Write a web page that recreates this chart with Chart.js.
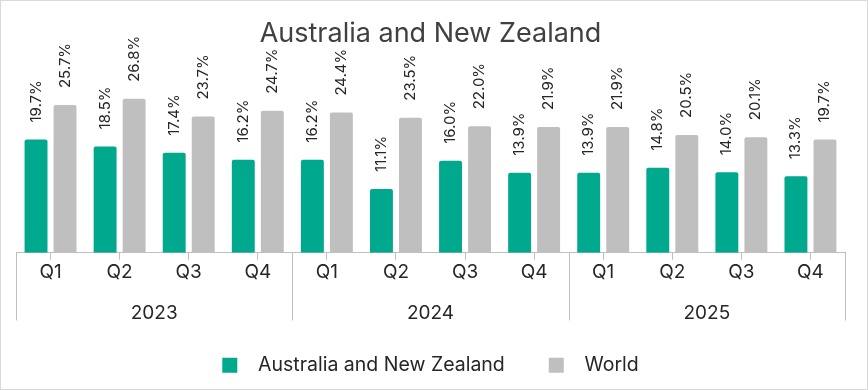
<!DOCTYPE html>
<html>
<head>
<meta charset="utf-8">
<script src="https://cdn.jsdelivr.net/npm/chart.js@4.4.1/dist/chart.umd.min.js"></script>
<style>
  html, body { margin: 0; padding: 0; background: #fff; }
  #wrap { width: 866px; height: 388px; border: 1px solid #d9d9d9; position: relative; }
</style>
</head>
<body>
<div id="wrap"><canvas id="c" width="866" height="388"></canvas></div>
<script>
/* data */
const quarters = ['Q1', 'Q2', 'Q3', 'Q4', 'Q1', 'Q2', 'Q3', 'Q4', 'Q1', 'Q2', 'Q3', 'Q4'];
const years    = ['2023', '2024', '2025'];
const anzValues   = [19.7, 18.5, 17.4, 16.2, 16.2, 11.1, 16.0, 13.9, 13.9, 14.8, 14.0, 13.3];
const worldValues = [25.7, 26.8, 23.7, 24.7, 24.4, 23.5, 22.0, 21.9, 21.9, 20.5, 20.1, 19.7];

const TEAL  = '#00a88e';
const GREY  = '#bfbfbf';
const TEXT  = '#262626';
const LINE  = '#bfbfbf';
const FONT  = "Inter, 'Open Sans', sans-serif";

/* rotated value labels above each bar */
const valueLabels = {
    id: 'valueLabels',
    afterDatasetsDraw(chart) {
        const ctx = chart.ctx;
        ctx.save();
        ctx.fillStyle = TEXT;
        ctx.font = `15px ${FONT}`;
        ctx.textAlign = 'left';
        ctx.textBaseline = 'middle';
        chart.data.datasets.forEach((ds, di) => {
            chart.getDatasetMeta(di).data.forEach((bar, i) => {
                ctx.save();
                ctx.translate(bar.x, bar.y - 17);
                ctx.rotate(-Math.PI / 2);
                ctx.fillText(ds.data[i].toFixed(1) + '%', 0, 0);
                ctx.restore();
            });
        });
        ctx.restore();
    }
};

/* long separators between the year groups */
const yearSeparators = {
    id: 'yearSeparators',
    afterDraw(chart) {
        const x = chart.scales.x;
        const x2 = chart.scales.x2;
        const ctx = chart.ctx;
        ctx.save();
        ctx.strokeStyle = LINE;
        ctx.lineWidth = 1;
        for (let k = 0; k <= years.length; k++) {
            const px = Math.round(x.getPixelForValue(k * 4 - 0.5)) + 0.5;
            ctx.beginPath();
            ctx.moveTo(px, chart.chartArea.bottom);
            ctx.lineTo(px, x2.bottom - 2);
            ctx.stroke();
        }
        ctx.restore();
    }
};

new Chart(document.getElementById('c'), {
    type: 'bar',
    data: {
        labels: quarters,
        datasets: [
            {
                label: 'Australia and New Zealand',
                data: anzValues,
                backgroundColor: TEAL,
                borderRadius: 2,
                borderSkipped: 'bottom',
                categoryPercentage: 0.84,
                barPercentage: 0.79,
            },
            {
                label: 'World',
                data: worldValues,
                backgroundColor: GREY,
                borderRadius: 2,
                borderSkipped: 'bottom',
                categoryPercentage: 0.84,
                barPercentage: 0.79,
            },
        ],
    },
    options: {
        responsive: false,
        animation: false,
        layout: { padding: { left: 15, right: 22, top: 14, bottom: 4 } },
        plugins: {
            title: {
                display: true,
                text: 'Australia and New Zealand',
                color: '#404040',
                font: { family: FONT, size: 27, weight: 'normal' },
                padding: { top: 3, bottom: 30 },
            },
            legend: {
                position: 'bottom',
                labels: {
                    color: TEXT,
                    font: { family: FONT, size: 19.5 },
                    boxWidth: 15,
                    boxHeight: 15,
                    padding: 33,
                    // a little extra room between box, text and next item
                    generateLabels(chart) {
                        const items = Chart.defaults.plugins.legend.labels.generateLabels(chart);
                        return items.map((item, i) => ({
                            ...item,
                            text: '  ' + item.text + (i < items.length - 1 ? '  ' : ''),
                        }));
                    },
                },
            },
            tooltip: { enabled: false },
        },
        scales: {
            x: {
                grid: { offset: false, drawOnChartArea: false, color: LINE, tickLength: 7 },
                border: { color: LINE },
                ticks: { color: TEXT, font: { family: FONT, size: 19 }, padding: 1, maxRotation: 0 },
            },
            x2: {
                type: 'category',
                labels: years,
                position: 'bottom',
                // hidden grid; tickLength only reserves room above the year labels
                grid: { display: false, drawTicks: true, tickLength: 19 },
                border: { display: false },
                ticks: { color: TEXT, font: { family: FONT, size: 19, lineHeight: 1 }, padding: 0 },
            },
            y: {
                display: false,
                min: 0,
                max: 30,
            },
        },
    },
    plugins: [valueLabels, yearSeparators],
});
</script>
</body>
</html>
